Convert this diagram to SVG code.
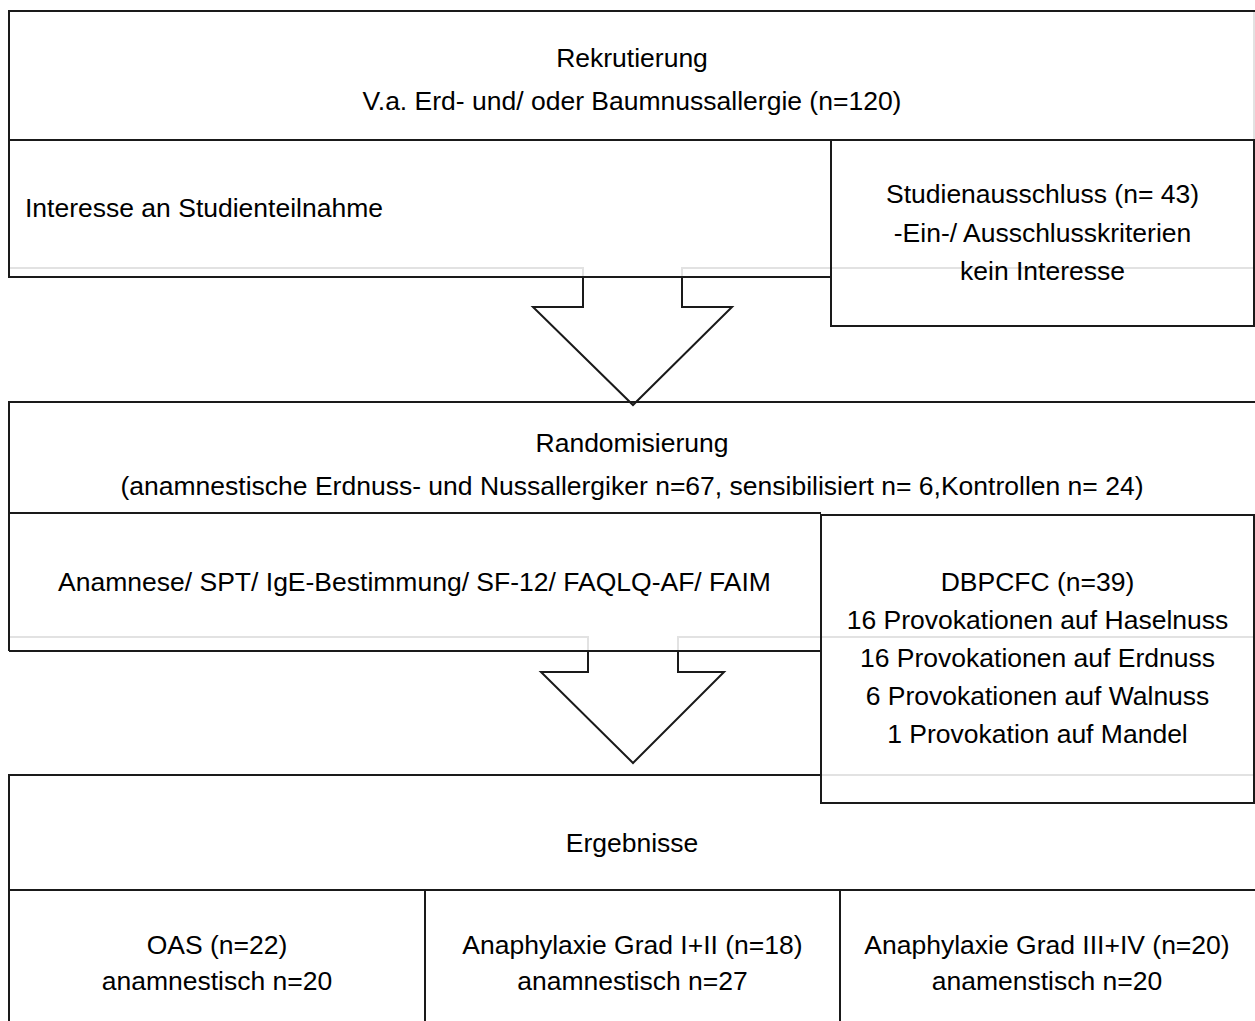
<svg xmlns="http://www.w3.org/2000/svg" width="1255" height="1021" viewBox="0 0 1255 1021">
<style>
.t{font-family:"Liberation Sans",Arial,sans-serif;font-size:26.5px;fill:#000}
.c{text-anchor:middle}
.b{fill:none;stroke:#1a1a1a;stroke-width:2}
.bw{fill:#fff;stroke:#1a1a1a;stroke-width:2}
.g{fill:none;stroke:#e2e2e2;stroke-width:2}
</style>
<rect width="1255" height="1021" fill="#fff"/>
<g id="guides">
<path class="g" d="M10 268 H583 V277 M682 277 V268 H1255"/>
<path class="g" d="M10 637 H588 V651 M678 651 V637 H1255"/>
<path class="g" d="M822 775 H1255"/>
<path class="g" d="M1254 12 V139"/>
</g>
<g id="connectors">
<path class="bw" d="M583 277 V307 H533 L633 405 L732 307 H682 V277"/>
<path class="bw" d="M588 651 V672 H541 L633 763 L724 672 H678 V651"/>
</g>
<g id="rekrutierung">
<path class="b" d="M9 140 V11 H1255"/>
<path class="b" d="M9 140 H1255"/>
<text class="t c" x="632" y="67">Rekrutierung</text>
<text class="t c" x="632" y="110">V.a. Erd- und/ oder Baumnussallergie (n=120)</text>
</g>
<g id="interesse">
<path class="b" d="M9 140 V277 H831"/>
<text class="t" x="25" y="217">Interesse an Studienteilnahme</text>
</g>
<g id="ausschluss">
<rect class="b" x="831" y="140" width="423" height="186"/>
<text class="t c" x="1042.5" y="203">Studienausschluss (n= 43)</text>
<text class="t c" x="1042.5" y="242">-Ein-/ Ausschlusskriterien</text>
<text class="t c" x="1042.5" y="280">kein Interesse</text>
</g>
<g id="randomisierung">
<path class="b" d="M9 651 V402 H1255"/>
<path class="b" d="M9 513 H821"/>
<text class="t c" x="632" y="452">Randomisierung</text>
<text class="t c" x="632" y="495">(anamnestische Erdnuss- und Nussallergiker n=67, sensibilisiert n= 6,Kontrollen n= 24)</text>
</g>
<g id="anamnese">
<path class="b" d="M9 651 H821"/>
<text class="t c" x="414.5" y="591">Anamnese/ SPT/ IgE-Bestimmung/ SF-12/ FAQLQ-AF/ FAIM</text>
</g>
<g id="dbpcfc">
<rect class="b" x="821" y="515" width="433" height="288"/>
<text class="t c" x="1037.5" y="591">DBPCFC (n=39)</text>
<text class="t c" x="1037.5" y="628.5">16 Provokationen auf Haselnuss</text>
<text class="t c" x="1037.5" y="667">16 Provokationen auf Erdnuss</text>
<text class="t c" x="1037.5" y="705">6 Provokationen auf Walnuss</text>
<text class="t c" x="1037.5" y="743">1 Provokation auf Mandel</text>
</g>
<g id="ergebnisse">
<path class="b" d="M9 1021 V775 H821"/>
<path class="b" d="M9 890 H1255"/>
<text class="t c" x="632" y="852">Ergebnisse</text>
</g>
<g id="oas">
<path class="b" d="M425 890 V1021"/>
<text class="t c" x="217" y="954">OAS (n=22)</text>
<text class="t c" x="217" y="990">anamnestisch n=20</text>
</g>
<g id="grad12">
<path class="b" d="M840 890 V1021"/>
<text class="t c" x="632.5" y="954">Anaphylaxie Grad I+II (n=18)</text>
<text class="t c" x="632.5" y="990">anamnestisch n=27</text>
</g>
<g id="grad34">
<text class="t c" x="1047" y="954">Anaphylaxie Grad III+IV (n=20)</text>
<text class="t c" x="1047" y="990">anamenstisch n=20</text>
</g>
</svg>
